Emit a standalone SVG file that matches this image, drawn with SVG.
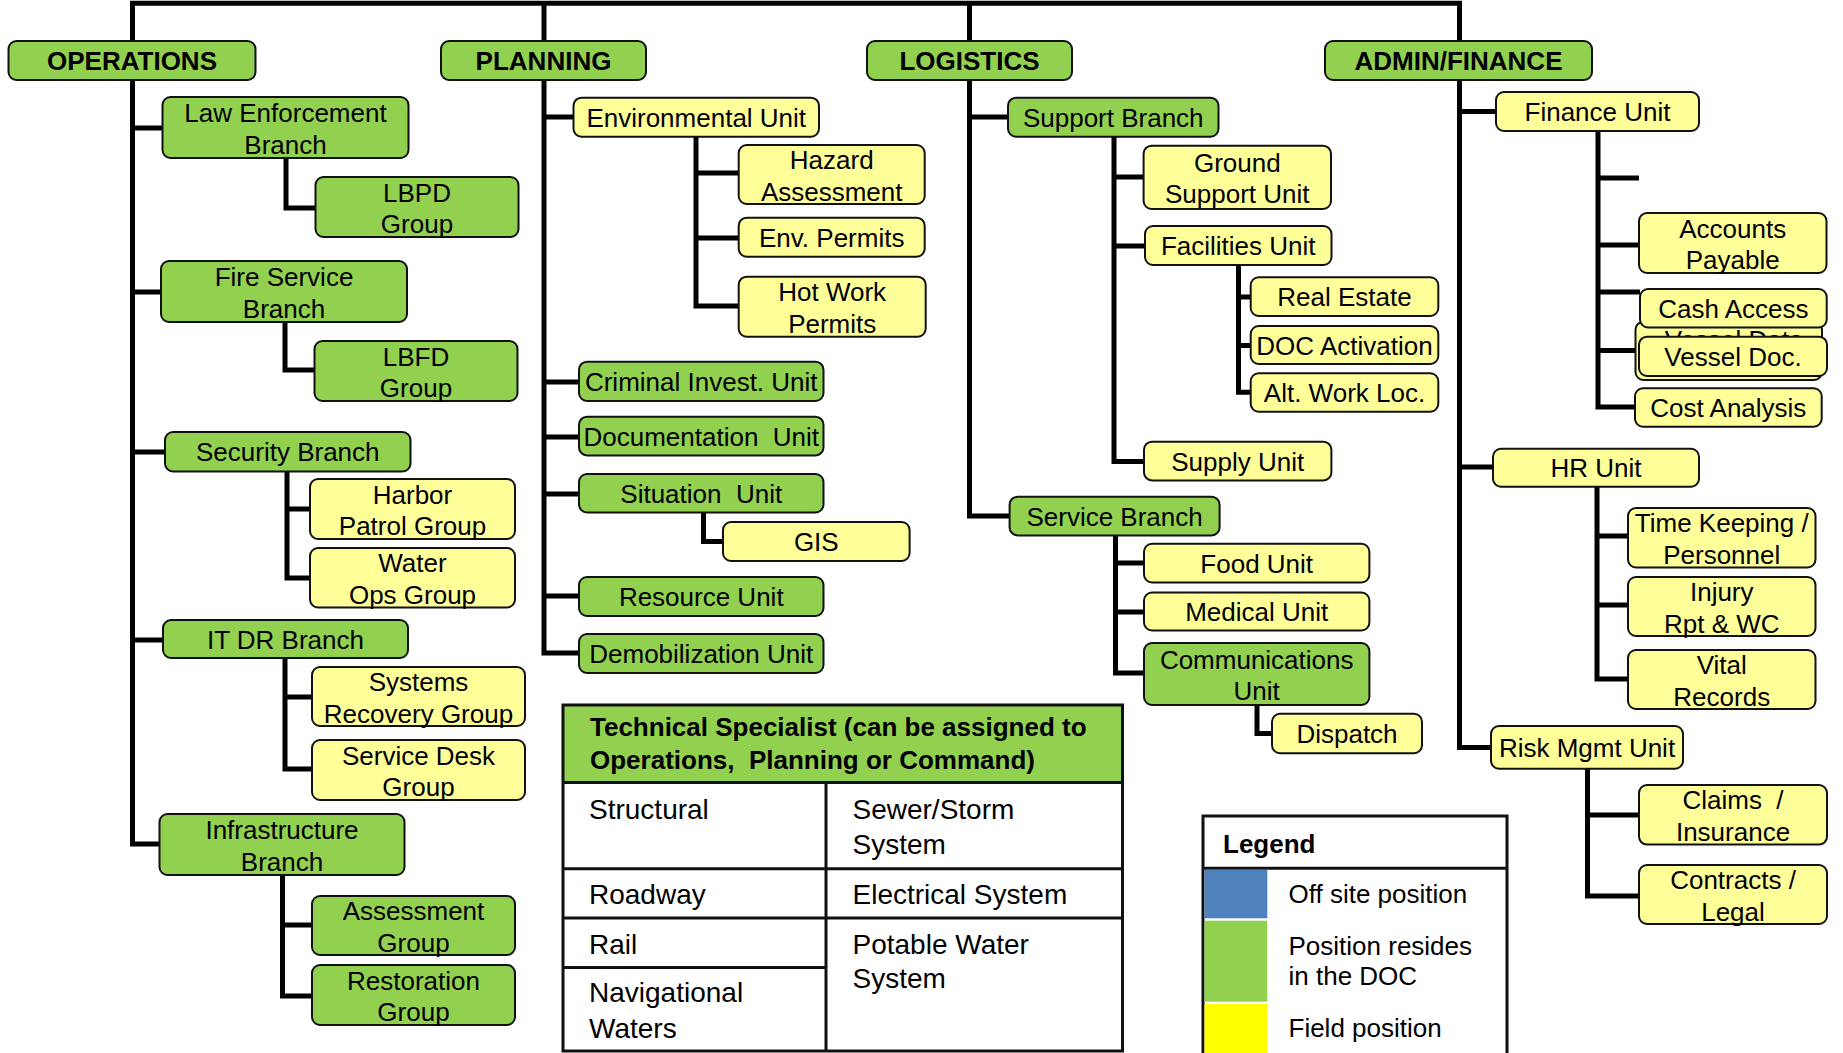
<svg xmlns="http://www.w3.org/2000/svg" width="1843" height="1053" viewBox="0 0 1843 1053">
<style>
text{font-family:"Liberation Sans",Arial,sans-serif;font-size:26px;fill:#000;text-anchor:middle;white-space:pre}
.b{font-weight:bold}
.g{fill:#92D050;stroke:#111;stroke-width:2}
.y{fill:#FFFF99;stroke:#111;stroke-width:2}
.c{fill:none;stroke:#000;stroke-width:5}
.t{font-size:28px;text-anchor:start}
.l{text-anchor:start}
.tl{fill:none;stroke:#111;stroke-width:3}
</style>
<rect width="1843" height="1053" fill="#fff"/>
<g id="connectors">
<path class="c" d="M132.5,41 V3.3 H1459.5 V41 M544,3.3 V41 M969.5,3.3 V41"/>
<path class="c" d="M132.5,80 V844 H159.5 M132.5,128 H162.5 M132.5,292 H161 M132.5,452 H165 M132.5,640 H163"/>
<path class="c" d="M286,158 V208 H315.5 M285,322 V370 H314.5 M287,471.5 V578 H310 M287,509 H310 M285,658 V769 H312 M285,697 H312 M282.5,875 V996 H312 M282.5,925 H312"/>
<path class="c" d="M544,80 V653 H579 M544,117 H573.5 M544,382 H579 M544,437 H579 M544,494 H579 M544,596 H579"/>
<path class="c" d="M696,136.7 V306 H738.7 M696,173 H738.7 M696,238 H738.7 M703.5,512.5 V541.5 H723"/>
<path class="c" d="M969.5,80 V516 H1009.6 M969.5,117 H1008"/>
<path class="c" d="M1114,136.7 V461.5 H1144 M1114,177 H1143.6 M1114,246 H1145 M1238.5,265 V392.3 H1250.7 M1238.5,297 H1250.7 M1238.5,345.5 H1250.7"/>
<path class="c" d="M1115.5,535.4 V673 H1144 M1115.5,563 H1144 M1115.5,612 H1144 M1257,705 V733.5 H1272"/>
<path class="c" d="M1459.5,80 V747.5 H1491 M1459.5,111.5 H1496 M1459.5,467 H1493"/>
<path class="c" d="M1598,131 V407 H1635 M1598,178 H1639 M1598,245 H1639 M1598,292 H1640 M1598,350.5 H1635.5"/>
<path class="c" d="M1597,486.75 V679 H1628 M1597,536 H1628 M1597,605 H1628 M1587.5,768.75 V896 H1639 M1587.5,815 H1639"/>
</g>
<g id="operations"><rect class="g" x="8.5" y="41" width="247" height="39" rx="8"/><text class="b" x="132" y="70">OPERATIONS</text></g>
<g id="law-enforcement"><rect class="g" x="162.5" y="97" width="246" height="61" rx="8"/><text x="285.5" y="122">Law Enforcement</text><text x="285.5" y="153.5">Branch</text></g>
<g id="lbpd"><rect class="g" x="315.5" y="177" width="203" height="60" rx="8"/><text x="417" y="201.5">LBPD</text><text x="417" y="233">Group</text></g>
<g id="fire-service"><rect class="g" x="161" y="261" width="246" height="61" rx="8"/><text x="284" y="286">Fire Service</text><text x="284" y="317.5">Branch</text></g>
<g id="lbfd"><rect class="g" x="314.5" y="341" width="203" height="60" rx="8"/><text x="416" y="365.5">LBFD</text><text x="416" y="397">Group</text></g>
<g id="security"><rect class="g" x="165" y="432" width="245.5" height="39.5" rx="8"/><text x="287.75" y="461">Security Branch</text></g>
<g id="harbor-patrol"><rect class="y" x="310" y="479" width="205" height="60" rx="8"/><text x="412.5" y="503.5">Harbor</text><text x="412.5" y="535">Patrol Group</text></g>
<g id="water-ops"><rect class="y" x="310" y="548" width="205" height="59.5" rx="8"/><text x="412.5" y="572">Water</text><text x="412.5" y="603.5">Ops Group</text></g>
<g id="it-dr"><rect class="g" x="163" y="620" width="245" height="38" rx="8"/><text x="285.5" y="648.5">IT DR Branch</text></g>
<g id="systems-recovery"><rect class="y" x="312" y="667" width="213" height="59" rx="8"/><text x="418.5" y="691">Systems</text><text x="418.5" y="722.5">Recovery Group</text></g>
<g id="service-desk"><rect class="y" x="312" y="740" width="213" height="60" rx="8"/><text x="418.5" y="764.5">Service Desk</text><text x="418.5" y="796">Group</text></g>
<g id="infrastructure"><rect class="g" x="159.5" y="814" width="245" height="61" rx="8"/><text x="282" y="839">Infrastructure</text><text x="282" y="870.5">Branch</text></g>
<g id="assessment"><rect class="g" x="312" y="896" width="203" height="59" rx="8"/><text x="413.5" y="920">Assessment</text><text x="413.5" y="951.5">Group</text></g>
<g id="restoration"><rect class="g" x="312" y="965" width="203" height="60" rx="8"/><text x="413.5" y="989.5">Restoration</text><text x="413.5" y="1021">Group</text></g>
<g id="planning"><rect class="g" x="441" y="41" width="205" height="39" rx="8"/><text class="b" x="543.5" y="70">PLANNING</text></g>
<g id="environmental"><rect class="y" x="573.5" y="97.7" width="245.5" height="39" rx="8"/><text x="696.25" y="126.7">Environmental Unit</text></g>
<g id="hazard"><rect class="y" x="738.7" y="145" width="186" height="59" rx="8"/><text x="831.7" y="169">Hazard</text><text x="831.7" y="200.5">Assessment</text></g>
<g id="env-permits"><rect class="y" x="738.7" y="217.7" width="186" height="39" rx="8"/><text x="831.7" y="246.7">Env. Permits</text></g>
<g id="hot-work"><rect class="y" x="738.7" y="276.7" width="187" height="60" rx="8"/><text x="832.2" y="301.2">Hot Work</text><text x="832.2" y="332.7">Permits</text></g>
<g id="criminal"><rect class="g" x="579" y="361.7" width="244.5" height="39.3" rx="8"/><text x="701.25" y="390.85">Criminal Invest. Unit</text></g>
<g id="documentation"><rect class="g" x="579" y="416.7" width="244.5" height="38.7" rx="8"/><text x="701.25" y="445.5">Documentation  Unit</text></g>
<g id="situation"><rect class="g" x="579" y="474" width="244.5" height="38.5" rx="8"/><text x="701.25" y="502.75">Situation  Unit</text></g>
<g id="gis"><rect class="y" x="723" y="522" width="186.6" height="39" rx="8"/><text x="816.3" y="551">GIS</text></g>
<g id="resource"><rect class="g" x="579" y="577" width="244.5" height="39" rx="8"/><text x="701.25" y="606">Resource Unit</text></g>
<g id="demobilization"><rect class="g" x="579" y="634" width="244.5" height="39" rx="8"/><text x="701.25" y="663">Demobilization Unit</text></g>
<g id="logistics"><rect class="g" x="867" y="41" width="205" height="39" rx="8"/><text class="b" x="969.5" y="70">LOGISTICS</text></g>
<g id="support-branch"><rect class="g" x="1008" y="97.7" width="210.5" height="39" rx="8"/><text x="1113.25" y="126.7">Support Branch</text></g>
<g id="ground-support"><rect class="y" x="1143.6" y="145.7" width="187.4" height="63.3" rx="8"/><text x="1237.3" y="171.85">Ground</text><text x="1237.3" y="203.35">Support Unit</text></g>
<g id="facilities"><rect class="y" x="1145" y="226" width="186.5" height="39" rx="8"/><text x="1238.25" y="255">Facilities Unit</text></g>
<g id="real-estate"><rect class="y" x="1250.7" y="277.3" width="187.6" height="38.7" rx="8"/><text x="1344.5" y="306.15">Real Estate</text></g>
<g id="doc-activation"><rect class="y" x="1250.7" y="326" width="187.6" height="38" rx="8"/><text x="1344.5" y="354.5">DOC Activation</text></g>
<g id="alt-work"><rect class="y" x="1250.7" y="373.3" width="187.6" height="38.4" rx="8"/><text x="1344.5" y="402">Alt. Work Loc.</text></g>
<g id="supply"><rect class="y" x="1144" y="441.7" width="187.4" height="38.7" rx="8"/><text x="1237.7" y="470.5">Supply Unit</text></g>
<g id="service-branch"><rect class="g" x="1009.6" y="496.7" width="210" height="38.7" rx="8"/><text x="1114.6" y="525.5">Service Branch</text></g>
<g id="food"><rect class="y" x="1144" y="543.75" width="225.4" height="38.75" rx="8"/><text x="1256.7" y="572.6">Food Unit</text></g>
<g id="medical"><rect class="y" x="1144" y="592.5" width="225.4" height="38" rx="8"/><text x="1256.7" y="621">Medical Unit</text></g>
<g id="communications"><rect class="g" x="1144" y="643" width="225.4" height="62" rx="8"/><text x="1256.7" y="668.5">Communications</text><text x="1256.7" y="700">Unit</text></g>
<g id="dispatch"><rect class="y" x="1272" y="713.75" width="150" height="39.5" rx="8"/><text x="1347" y="743">Dispatch</text></g>
<g id="admin-finance"><rect class="g" x="1325" y="41" width="267" height="39" rx="8"/><text class="b" x="1458.5" y="70">ADMIN/FINANCE</text></g>
<g id="finance"><rect class="y" x="1496" y="92" width="203" height="39" rx="8"/><text x="1597.5" y="121">Finance Unit</text></g>
<g id="accounts-payable"><rect class="y" x="1639" y="213" width="187.5" height="60" rx="8"/><text x="1732.75" y="237.5">Accounts</text><text x="1732.75" y="269">Payable</text></g>
<g id="vessel-data"><rect class="y" x="1635.5" y="321.7" width="186.5" height="58.3" rx="8"/><text x="1734" y="348.6">Vessel Data</text></g>
<g id="cash-access"><rect class="y" x="1640" y="289" width="186.7" height="38.5" rx="8"/><text x="1733.35" y="317.75">Cash Access</text></g>
<g id="vessel-doc"><rect class="y" x="1639" y="336.7" width="188" height="39.3" rx="8"/><text x="1733" y="365.85">Vessel Doc.</text></g>
<g id="cost-analysis"><rect class="y" x="1635" y="388.3" width="186.7" height="38.4" rx="8"/><text x="1728.35" y="417">Cost Analysis</text></g>
<g id="hr"><rect class="y" x="1493" y="448.75" width="206" height="38" rx="8"/><text x="1596" y="477.25">HR Unit</text></g>
<g id="time-keeping"><rect class="y" x="1628" y="508" width="187.5" height="59.5" rx="8"/><text x="1721.75" y="532.25">Time Keeping /</text><text x="1721.75" y="563.75">Personnel</text></g>
<g id="injury"><rect class="y" x="1628" y="577" width="187.5" height="59" rx="8"/><text x="1721.75" y="601">Injury</text><text x="1721.75" y="632.5">Rpt &amp; WC</text></g>
<g id="vital-records"><rect class="y" x="1628" y="650" width="187.5" height="59" rx="8"/><text x="1721.75" y="674">Vital</text><text x="1721.75" y="705.5">Records</text></g>
<g id="risk-mgmt"><rect class="y" x="1491" y="726" width="192" height="42.75" rx="8"/><text x="1587" y="757">Risk Mgmt Unit</text></g>
<g id="claims"><rect class="y" x="1639" y="785" width="188" height="59.6" rx="8"/><text x="1733" y="809.3">Claims  /</text><text x="1733" y="840.8">Insurance</text></g>
<g id="contracts"><rect class="y" x="1639" y="865" width="188" height="59" rx="8"/><text x="1733" y="889">Contracts /</text><text x="1733" y="920.5">Legal</text></g>
<g id="technical-specialist">
<rect x="563" y="705" width="559.5" height="77.5" fill="#92D050"/>
<rect class="tl" x="563" y="705" width="559.5" height="346"/>
<path class="tl" d="M563,782.5 H1122.5 M826,782.5 V1051 M563,868.75 H1122.5 M563,918 H1122.5 M563,967.5 H826"/>
<text class="b l" x="590" y="736">Technical Specialist (can be assigned to</text>
<text class="b l" x="590" y="769">Operations,  Planning or Command)</text>
<text class="t" x="589" y="819">Structural</text>
<text class="t" x="852.5" y="819">Sewer/Storm</text>
<text class="t" x="852.5" y="854">System</text>
<text class="t" x="589" y="904">Roadway</text>
<text class="t" x="852.5" y="904">Electrical System</text>
<text class="t" x="589" y="954">Rail</text>
<text class="t" x="852.5" y="954">Potable Water</text>
<text class="t" x="852.5" y="988">System</text>
<text class="t" x="589" y="1002">Navigational</text>
<text class="t" x="589" y="1037.5">Waters</text>
</g>
<g id="legend">
<rect x="1203" y="816" width="304" height="240" fill="#fff" stroke="#111" stroke-width="3"/>
<path d="M1203,868.3 H1507" stroke="#111" stroke-width="3"/>
<rect x="1204.5" y="869.8" width="62.8" height="48.5" fill="#4F81BD"/>
<rect x="1204.5" y="920.7" width="62.8" height="81" fill="#92D050"/>
<rect x="1204.5" y="1004" width="62.8" height="50" fill="#FFFF00"/>
<text class="b l" x="1223" y="853.3">Legend</text>
<text class="l" x="1288.5" y="903.3">Off site position</text>
<text class="l" x="1288.5" y="955">Position resides</text>
<text class="l" x="1288.5" y="985">in the DOC</text>
<text class="l" x="1288.5" y="1037.3">Field position</text>
</g>
</svg>
